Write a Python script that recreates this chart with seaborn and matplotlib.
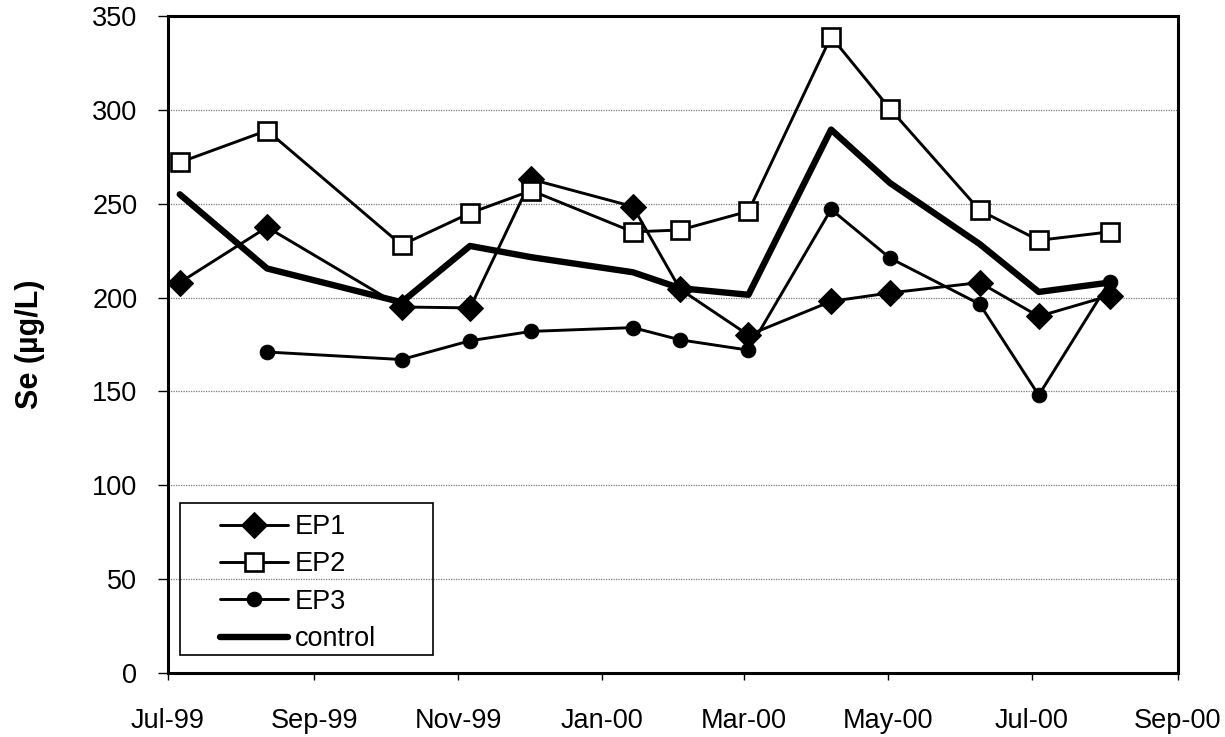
import pandas as pd
import numpy as np
import matplotlib
matplotlib.use("Agg")
import matplotlib.pyplot as plt
import matplotlib.dates as mdates
from matplotlib.patches import Rectangle
import seaborn as sns

# ===================== Data =====================
dates = ["1999-07-06", "1999-08-12", "1999-10-08", "1999-11-06", "1999-12-02",
         "2000-01-14", "2000-02-03", "2000-03-03", "2000-04-07", "2000-05-02",
         "2000-06-09", "2000-07-04", "2000-08-03"]
ep1 = [208, 237.5, 195, 194.5, 263, 248.5, 204.5, 180, 198, 202.5, 208, 190, 201]
ep2 = [272, 289, 228, 245, 257, 235, 236, 246, 339, 300.5, 246.5, 230.5, 235]
ep3 = [np.nan, 171, 167, 177, 182, 184, 177.5, 172, 247, 221, 196.5, 148, 208.5]
control = [255, 215.5, 197.5, 227.5, 221.5, 213.5, 205, 201.5, 289.5, 261, 228.5, 203, 208]

y_ticks = [0, 50, 100, 150, 200, 250, 300, 350]
y_label = "Se (µg/L)"

df = pd.DataFrame({"date": pd.to_datetime(dates), "EP1": ep1, "EP2": ep2,
                   "EP3": ep3, "control": control})

# ===================== Style =====================
sns.set_style("white")
plt.rcParams["font.family"] = ["Liberation Sans", "DejaVu Sans"]
plt.rcParams["text.color"] = "black"
plt.rcParams["axes.labelcolor"] = "black"

fig = plt.figure(figsize=(12.25, 7.37), dpi=100)
ax = fig.add_axes([0.1371, 0.0868, 0.8245, 0.8915])

# ===================== Lines =====================
sns.lineplot(data=df, x="date", y="EP1", ax=ax, color="black", lw=2.1,
             marker="D", markersize=13, markerfacecolor="black",
             markeredgecolor="black", label="EP1")
sns.lineplot(data=df, x="date", y="EP2", ax=ax, color="black", lw=2.1,
             marker="s", markersize=12.5, markerfacecolor="white",
             markeredgecolor="black", markeredgewidth=1.9, label="EP2")
sns.lineplot(data=df, x="date", y="EP3", ax=ax, color="black", lw=2.1,
             marker="o", markersize=10.5, markerfacecolor="black",
             markeredgecolor="black", label="EP3")
sns.lineplot(data=df, x="date", y="control", ax=ax, color="black", lw=4.6,
             label="control")

# ===================== Axes =====================
ax.set_xlim(pd.Timestamp("1999-07-01"), pd.Timestamp("2000-09-01"))
ax.set_ylim(0, 350)
ax.set_yticks(y_ticks)
ax.xaxis.set_major_locator(mdates.MonthLocator(bymonth=[1, 3, 5, 7, 9, 11]))
ax.xaxis.set_major_formatter(mdates.DateFormatter("%b-%y"))

ax.grid(axis="y", color="#7a7a7a", lw=0.9, linestyle=(0, (1, 1)))
ax.grid(axis="x", visible=False)
ax.set_axisbelow(True)

for side in ["left", "bottom", "top", "right"]:
    ax.spines[side].set_color("black")
    ax.spines[side].set_linewidth(2.2)

ax.tick_params(axis="y", direction="out", length=7, width=1, pad=15,
               labelsize=19.5, left=True, colors="black")
ax.tick_params(axis="x", direction="out", length=5, width=1, pad=20,
               labelsize=19.5, bottom=True, colors="black")

ax.set_xlabel("")
ax.set_ylabel(y_label, fontsize=22, fontweight="bold", color="black")
ax.yaxis.set_label_coords(-0.122, 0.5)

# ===================== Legend =====================
handles, labels = ax.get_legend_handles_labels()
leg = ax.legend(handles, labels, loc="upper left", bbox_to_anchor=(0.0515, 0.242),
                frameon=False, fontsize=19.5, borderpad=0, borderaxespad=0,
                handlelength=2.5, handletextpad=0.25, labelspacing=0.42)
ax.add_patch(Rectangle((0.0119, 0.0274), 0.2505, 0.2314, transform=ax.transAxes,
                       facecolor="none", edgecolor="black", lw=1.2, zorder=5))

fig.savefig("out.png", dpi=100, facecolor="white")
